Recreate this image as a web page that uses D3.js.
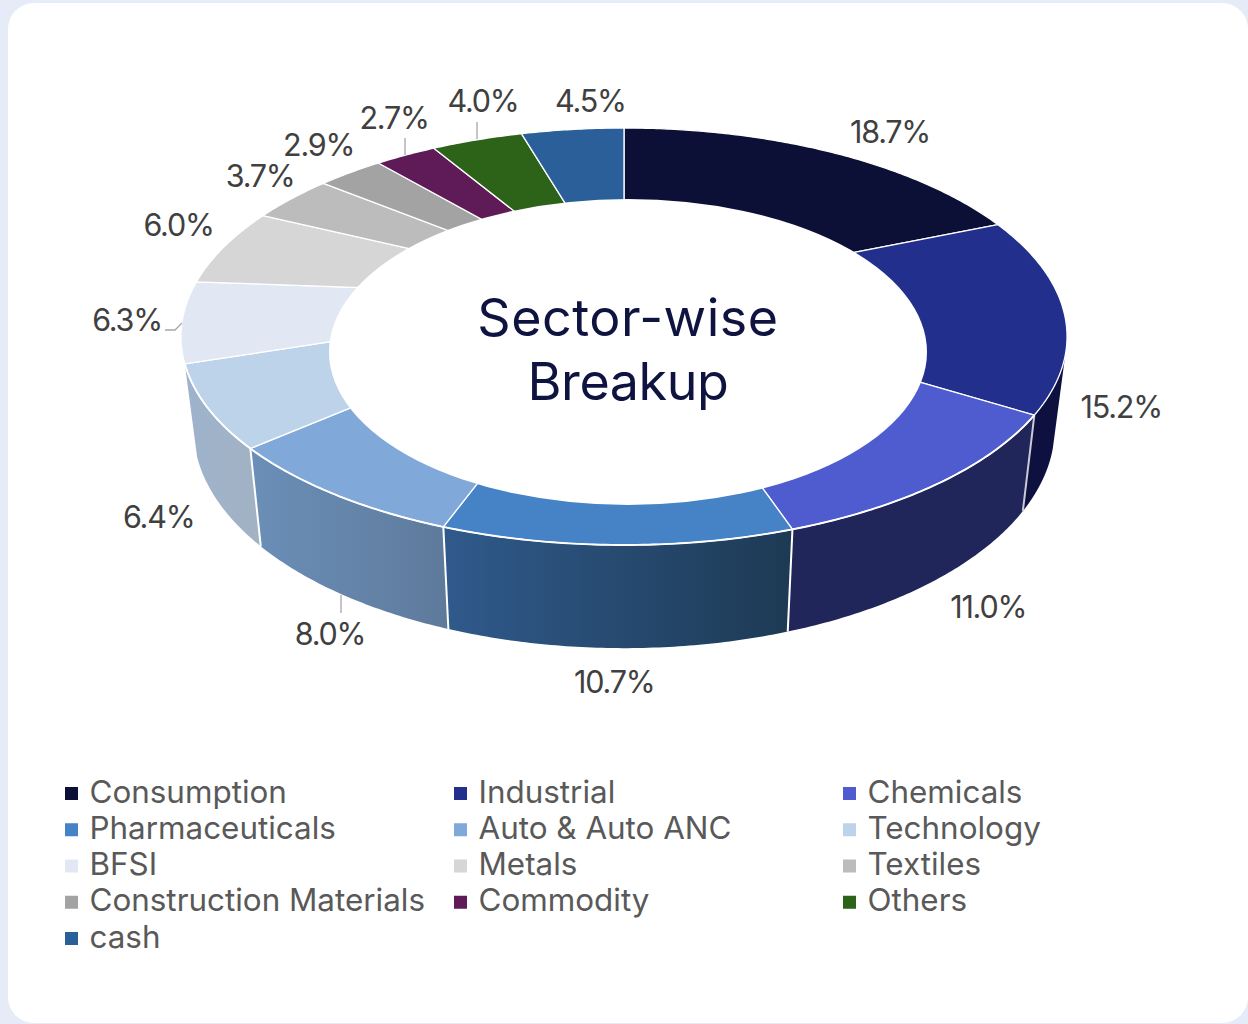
<!DOCTYPE html>
<html><head><meta charset="utf-8">
<script src="https://cdn.jsdelivr.net/npm/d3@7"></script>
<style>html,body{margin:0;padding:0;background:#e8eef8;overflow:hidden}svg{display:block}text{font-family:Inter,"Noto Sans",sans-serif}</style>
</head><body><div id="chart"></div>
<script>
const categories=["Consumption","Industrial","Chemicals","Pharmaceuticals","Auto & Auto ANC","Technology","BFSI","Metals","Textiles","Construction Materials","Commodity","Others","cash"];
const values=[18.7,15.2,11.0,10.7,8.0,6.4,6.3,6.0,3.7,2.9,2.7,4.0,4.5];
const topColors=["#0c1037","#232f8c","#4f5ccf","#4682c6","#80a9da","#bdd3ea","#e1e8f4","#d6d6d6","#bcbcbc","#a3a3a3","#5f1a58","#2d6219","#2a5f9a"];
const wallLeftColors=[null,"#0e1140","#20255a","#305a8c","#6b8fb8","#9db3cc",null,null,null,null,null,null,null];
const wallRightColors=[null,"#0e1140","#20255a","#1d3a54","#5e7a9b","#a3b2c4",null,null,null,null,null,null,null];

const W=1248,H=1024;
const svg=d3.select("#chart").append("svg").attr("width",W).attr("height",H);
const defs=svg.append("defs");
svg.append("rect").attr("width",W).attr("height",H).attr("fill","#e6ecf7");
svg.append("rect").attr("x",8).attr("y",3).attr("width",1240).attr("height",1020).attr("rx",26).attr("fill","#fff");

// perspective projection of the pie's unit circle
const P={cx:624,cy:297,bx:435,by:201,p:0.1895,wallSx:0.972,wallDy:89.5,wallSy:1.055};
const wallSilhouette=106*Math.PI/180;
function topPt(t,r=1){const X=r*Math.sin(t),Y=r*Math.cos(t),d=1+P.p*Y;return [P.cx+P.bx*X/d,P.cy-P.by*Y/d];}
function botPt(t){const [x,y]=topPt(t);return [P.cx+P.wallSx*(x-P.cx),P.cy+P.wallDy+P.wallSy*(y-P.cy)];}
const line=d3.line();
const arcs=d3.pie().sort(null).value(d=>d)(values);
function samples(a,b){const n=Math.max(2,Math.ceil((b-a)/0.01));return d3.range(n+1).map(i=>a+(b-a)*i/n);}

// side walls
const walls=svg.append("g");
arcs.forEach((a,i)=>{
  if(!wallLeftColors[i])return;
  const s=Math.max(a.startAngle,wallSilhouette),e=a.endAngle,ts=samples(s,e);
  const id="wall"+i;
  const tops=ts.map(t=>topPt(t)),bots=ts.map(botPt);
  const x0=d3.min(tops.concat(bots),d=>d[0]),x1=d3.max(tops.concat(bots),d=>d[0]);
  const g=defs.append("linearGradient").attr("id",id).attr("gradientUnits","userSpaceOnUse").attr("x1",x0).attr("x2",x1).attr("y1",0).attr("y2",0);
  g.append("stop").attr("offset",0).attr("stop-color",wallLeftColors[i]);
  g.append("stop").attr("offset",1).attr("stop-color",wallRightColors[i]);
  walls.append("path").attr("d",line(tops.concat(bots.reverse()))+"Z").attr("fill",`url(#${id})`);
});
// white separators on wall
arcs.forEach((a,i)=>{
  if(!wallLeftColors[i]||i===1)return;
  walls.append("path").attr("d",line([topPt(a.startAngle),botPt(a.startAngle)])).attr("stroke",i===2?"#c9cbd6":"#fff").attr("stroke-width",2).attr("fill","none");
});
// top faces
const tops=svg.append("g");
arcs.forEach((a,i)=>{
  const pts=samples(a.startAngle,a.endAngle).map(t=>topPt(t));
  tops.append("path").attr("d",line([[P.cx,P.cy],...pts])+"Z").attr("fill",topColors[i]).attr("stroke","#fff").attr("stroke-width",1.3).attr("stroke-linejoin","round");
});
// white rim where the top face meets the wall
svg.append("path").attr("d",line(samples(arcs[2].startAngle,arcs[5].endAngle).map(t=>topPt(t)))).attr("fill","none").attr("stroke","#fff").attr("stroke-width",1.9);
// hole
svg.append("ellipse").attr("cx",628).attr("cy",352).attr("rx",299).attr("ry",153).attr("fill","#fff");

// title
const title=svg.append("g").attr("fill","#0e1340").attr("text-anchor","middle").style("font-size","52px");
title.append("text").attr("x",628).attr("y",336).style("letter-spacing","0.55px").text("Sector-wise");
title.append("text").attr("x",628).attr("y",400).style("letter-spacing","-0.4px").text("Breakup");

// data labels, offset from the projected slice midpoint
const labelOffsets=[[58,-20.5],[57,93],[47.5,124],[-3,137],[-3,140],[-48.5,109],[-55,-2],[-45.5,-22],[-31.5,-23],[-31.5,-28],[-11.5,-38],[6,-39],[18,-29]];
const labels=svg.append("g").attr("fill","#404040").attr("text-anchor","middle").attr("dominant-baseline","central").style("font-size","30.5px").style("letter-spacing","-1.2px");
arcs.forEach((a,i)=>{
  const [x,y]=topPt((a.startAngle+a.endAngle)/2);
  labels.append("text").attr("x",x+labelOffsets[i][0]).attr("y",y+labelOffsets[i][1]).text(d3.format(".1f")(values[i])+"%");
});
// leader lines
const leaders=[[[405,138],[405,155]],[[477,122],[477,139]],[[341,595],[341,613]],[[165,330],[175,330],[182,323]]];
svg.append("g").selectAll("path").data(leaders).join("path").attr("d",d=>line(d)).attr("fill","none").attr("stroke","#a6a6a6").attr("stroke-width",1.3);

// legend
const colX=d3.scaleOrdinal().domain([0,1,2]).range([65,454,843]);
const rowY=d3.scaleLinear().domain([0,4]).range([793,938]);
const legend=svg.append("g").selectAll("g").data(categories).join("g")
  .attr("transform",(d,i)=>`translate(${colX(i%3)},${rowY(Math.floor(i/3))})`);
legend.append("rect").attr("x",0).attr("y",-6).attr("width",13).attr("height",13).attr("fill",(d,i)=>topColors[i]);
legend.append("text").attr("x",24.5).attr("y",-1.3).attr("dominant-baseline","central").attr("fill","#595959").style("font-size","31.4px").text(d=>d);
</script></body></html>
